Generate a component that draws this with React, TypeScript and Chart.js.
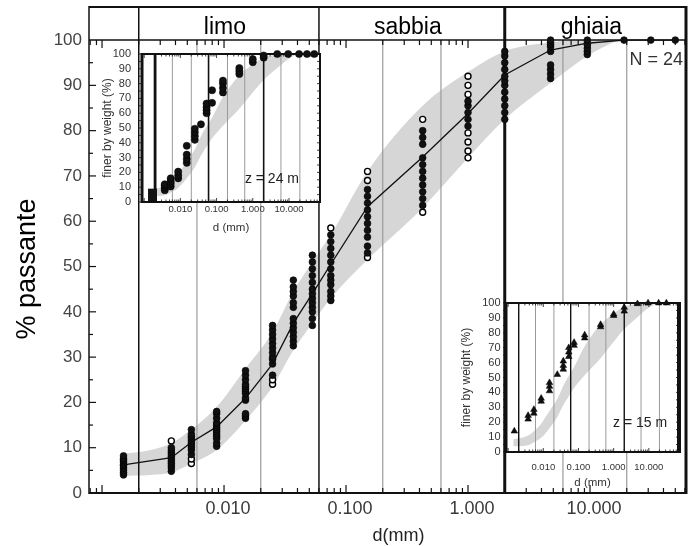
import React, { useEffect, useRef } from 'react';
import { Chart, registerables } from 'chart.js';

Chart.register(...registerables);

const FONT = '"Liberation Sans", Arial, Helvetica, sans-serif';
const BAND_COLOR = '#d6d6d6';

// grain sizes (mm) of the readings
const SIZES = [0.0015, 0.0037, 0.0054, 0.0087, 0.015, 0.025, 0.037, 0.053, 0.075, 0.15, 0.425, 1.0, 2.0, 4.75, 9.5, 19, 31.5, 50];

// main chart: % passing of the 24 samples at each size (filled markers)
const MAIN_FILLED: number[][] = [
  [4, 4.5, 5, 5.5, 6, 6.3, 6.8, 7.2, 7.6, 8.2],
  [4.8, 5.5, 6, 6.5, 7, 7.5, 8, 8.5, 9, 9.5, 10],
  [8.5, 9.5, 10, 10.5, 11, 11.5, 12, 12.5, 13, 14],
  [10.3, 11, 12, 12.5, 13, 13.5, 14, 14.5, 15, 15.5, 16.5, 17.5, 18],
  [16.5, 17, 17.5, 20.5, 21, 22, 22.5, 23, 23.5, 24, 25, 26, 27],
  [26, 28.5, 29.5, 30, 31, 32, 33, 34, 35, 36, 37],
  [32.5, 33.5, 34.5, 35.5, 36.5, 37.5, 38.5, 41, 42, 43.5, 44.5, 45.5, 47],
  [37, 38.5, 40, 41, 42, 43, 44, 45, 46.5, 48, 49.5, 51, 52.5],
  [42.5, 43.5, 44.5, 46, 47, 48, 49.5, 51, 52.5, 54, 55.5, 57],
  [53, 54.5, 56.5, 58, 59.5, 61, 62.5, 64, 65.5, 67],
  [63.5, 65, 66.5, 68, 69.5, 71, 72.5, 74, 77, 78.5, 80],
  [81, 82.5, 84, 85.5, 86.5],
  [82.5, 84, 85.5, 87, 88.5, 90, 91, 92, 93.5, 95, 96.5, 97.5],
  [91.5, 92.5, 93.5, 94.5, 97.5, 98.5, 99, 99.5, 100],
  [96.8, 97.5, 98.2, 99, 100],
  [100],
  [100],
  [100],
];
// main chart: open markers
const MAIN_OPEN: number[][] = [
  [], [11.5], [6.5, 7.5], [], [], [24, 25], [], [], [58.5],
  [52, 69, 71], [62, 82.5], [74, 75.5, 77.5, 79.5, 88, 90, 92], [], [], [], [], [], [],
];
// main chart: mean curve
const MAIN_MEAN = [6.2, 7.8, 11.2, 14.6, 20.9, 28.5, 37.5, 44, 50.5, 63.2, 74.2, 83.8, 92.3, 97.8, 99.3, 100, 100, 100];

// envelope (grey band)
const BAND_D = [0.0014, 0.0025, 0.0037, 0.0054, 0.0087, 0.015, 0.025, 0.037, 0.053, 0.075, 0.15, 0.425, 1.0, 2.0, 4.75, 9.5, 17];
const BAND_UPPER = [8.6, 9.5, 11, 14, 19, 27.5, 35.5, 44.5, 51, 57, 71, 85.5, 93, 97.5, 99.5, 100, 100];
const BAND_LOWER = [3.8, 4, 4.5, 6.5, 9.5, 16, 23.5, 31.5, 37.5, 43, 51.5, 63, 74, 82.5, 90.5, 96.5, 100];

// inset z = 24 m
const INSET_A_VALUES: number[][] = [
  [], [8, 9.5, 11, 12], [10.5, 12.5, 14, 16], [16, 18, 20.5], [26.5, 29, 32, 38],
  [42, 44.5, 47, 49.5], [52.5], [60, 62, 64, 66.5], [67, 75.5], [74, 77, 80, 82],
  [86.5, 88.5, 90.5], [94.5, 96.5], [97.5, 99], [100], [100], [100], [100], [100],
];
const INSET_A_CLAY_D = [0.0017, 0.0017];
const INSET_A_CLAY_Y = [0, 9];

// inset z = 15 m
const INSET_B_VALUES: number[][] = [
  [14], [22, 24.5], [26, 28.5], [34, 36], [41, 44, 46.5], [52], [55.5, 58, 61],
  [64, 67, 70], [71.5, 73.5], [76.5, 78.5], [84, 85.5], [91.5, 92.5], [94.5, 97],
  [99.5], [100], [100], [100], [],
];

const X_TICKS = [0.01, 0.1, 1, 10];
const X_TICK_LABELS = ['0.010', '0.100', '1.000', '10.000'];
const Y_TICKS = [0, 10, 20, 30, 40, 50, 60, 70, 80, 90, 100];
const CLASS_LIMITS = [0.002, 0.06, 2];
const SUB_LIMITS = [0.006, 0.02, 0.2, 0.6, 6, 20];
const CLASS_NAMES = ['limo', 'sabbia', 'ghiaia'];
const N_LABEL = 'N = 24';
const Y_TITLE = '% passante';
const X_TITLE = 'd(mm)';
const INSET_Y_TITLE = 'finer by weight (%)';
const INSET_X_TITLE = 'd (mm)';
const INSET_A_LABEL = 'z = 24 m';
const INSET_B_LABEL = 'z = 15 m';

const MAIN_X_MIN = 0.000782;
const MAIN_X_MAX = 61.2;
const MAIN_Y_MAX = 107.3;
const INSET_X_MIN = 0.00087;
const INSET_X_MAX = 72;

const toPoints = (cols: number[][]) =>
  cols.flatMap((vals, i) => vals.map((v) => ({ x: SIZES[i], y: v })));

function seg(ctx: CanvasRenderingContext2D, x1: number, y1: number, x2: number, y2: number) {
  ctx.beginPath();
  ctx.moveTo(x1, y1);
  ctx.lineTo(x2, y2);
  ctx.stroke();
}

function logTicks(min: number, max: number) {
  const out: { v: number; major: boolean }[] = [];
  for (let e = -4; e <= 2; e++) {
    for (let m = 1; m <= 9; m++) {
      const v = m * Math.pow(10, e);
      if (v > min && v < max) out.push({ v, major: m === 1 });
    }
  }
  return out;
}

function bandDatasets() {
  return [
    {
      data: BAND_D.map((d, i) => ({ x: d, y: BAND_UPPER[i] })),
      borderWidth: 0,
      borderColor: 'rgba(0,0,0,0)',
      pointRadius: 0,
      fill: '+1',
      backgroundColor: BAND_COLOR,
      cubicInterpolationMode: 'monotone',
      order: 10,
    },
    {
      data: BAND_D.map((d, i) => ({ x: d, y: BAND_LOWER[i] })),
      borderWidth: 0,
      borderColor: 'rgba(0,0,0,0)',
      pointRadius: 0,
      fill: false,
      cubicInterpolationMode: 'monotone',
      order: 10,
    },
  ];
}

const mainPlugin = {
  id: 'mainDecor',
  afterDatasetDraw(chart: any, args: any) {
    if (args.index !== 0) return;
    const { ctx, chartArea: a, scales } = chart;
    const x = scales.x;
    const y100 = scales.y.getPixelForValue(100);
    ctx.save();
    ctx.strokeStyle = '#9a9a9a';
    ctx.lineWidth = 1.2;
    SUB_LIMITS.forEach((d) => {
      const px = x.getPixelForValue(d);
      seg(ctx, px, y100, px, a.bottom);
    });
    ctx.strokeStyle = '#111';
    CLASS_LIMITS.forEach((d, i) => {
      const px = x.getPixelForValue(d);
      ctx.lineWidth = i === 2 ? 3 : 1.5;
      seg(ctx, px, a.top, px, a.bottom);
    });
    ctx.restore();
  },
  afterDraw(chart: any) {
    const { ctx, chartArea: a, scales } = chart;
    const x = scales.x;
    const y = scales.y;
    const y100 = y.getPixelForValue(100);
    ctx.save();
    ctx.strokeStyle = '#111';
    ctx.lineWidth = 1.2;
    logTicks(MAIN_X_MIN, MAIN_X_MAX).forEach((t) => {
      const px = x.getPixelForValue(t.v);
      const len = t.major ? 8 : 5;
      seg(ctx, px, a.bottom, px, a.bottom - len);
      seg(ctx, px, y100, px, y100 + len);
    });
    for (let v = 5; v < 100; v += 5) {
      const py = y.getPixelForValue(v);
      seg(ctx, a.left, py, a.left + (v % 10 === 0 ? 7 : 4), py);
    }
    ctx.lineWidth = 1.5;
    seg(ctx, a.left, y100, a.right, y100);
    ctx.lineWidth = 2;
    seg(ctx, a.left, a.top, a.right, a.top);
    seg(ctx, a.left, a.bottom, a.right, a.bottom);
    ctx.lineWidth = 1.5;
    seg(ctx, a.left, a.top - 1, a.left, a.bottom + 1);
    ctx.lineWidth = 3;
    seg(ctx, a.right, a.top - 1, a.right, a.bottom + 1);

    // soil class names
    const bounds = [...CLASS_LIMITS.map((d) => x.getPixelForValue(d)), a.right];
    ctx.fillStyle = '#000';
    ctx.font = `23px ${FONT}`;
    ctx.textAlign = 'center';
    ctx.textBaseline = 'alphabetic';
    CLASS_NAMES.forEach((name, i) => {
      ctx.fillText(name, (bounds[i] + bounds[i + 1]) / 2 - 4, y100 - 6);
    });
    ctx.fillStyle = '#333';
    ctx.font = `18px ${FONT}`;
    ctx.textAlign = 'right';
    ctx.fillText(N_LABEL, a.right - 3, y100 + 25);

    // axis titles
    ctx.fillStyle = '#222';
    ctx.font = `18px ${FONT}`;
    ctx.textAlign = 'center';
    ctx.textBaseline = 'middle';
    ctx.fillText(X_TITLE, (a.left + a.right) / 2 + 11, a.bottom + 43);
    ctx.save();
    ctx.translate(28, (a.top + a.bottom) / 2 + 19);
    ctx.rotate(-Math.PI / 2);
    ctx.fillStyle = '#000';
    ctx.font = `27px ${FONT}`;
    ctx.fillText(Y_TITLE, 0, 0);
    ctx.restore();
    ctx.restore();
  },
};

function mainConfig(): any {
  return {
    type: 'line',
    data: {
      datasets: [
        ...bandDatasets(),
        {
          data: SIZES.map((d, i) => ({ x: d, y: MAIN_MEAN[i] })),
          borderColor: '#111',
          borderWidth: 1.3,
          pointRadius: 0,
          fill: false,
          tension: 0,
          order: 1,
        },
        {
          data: toPoints(MAIN_FILLED),
          showLine: false,
          pointStyle: 'circle',
          pointRadius: 3.4,
          pointBackgroundColor: '#111',
          pointBorderColor: '#000',
          pointBorderWidth: 0.6,
          order: 0,
        },
        {
          data: toPoints(MAIN_OPEN),
          showLine: false,
          pointStyle: 'circle',
          pointRadius: 3,
          pointBackgroundColor: '#fff',
          pointBorderColor: '#000',
          pointBorderWidth: 1.4,
          order: 0,
        },
      ],
    },
    options: {
      responsive: false,
      animation: false,
      devicePixelRatio: 1,
      events: [],
      layout: { padding: { left: 0, top: 7, right: 11, bottom: 0 } },
      plugins: { legend: { display: false }, tooltip: { enabled: false } },
      scales: {
        x: {
          type: 'logarithmic',
          min: MAIN_X_MIN,
          max: MAIN_X_MAX,
          afterBuildTicks: (s: any) => {
            s.ticks = X_TICKS.map((v) => ({ value: v }));
          },
          afterFit: (s: any) => {
            s.height = 53;
            s.paddingLeft = 0;
            s.paddingRight = 0;
          },
          grid: { display: false, drawTicks: false },
          border: { display: false },
          ticks: {
            autoSkip: false,
            maxRotation: 0,
            padding: 5,
            labelOffset: 4,
            color: '#3a3a3a',
            font: { family: FONT, size: 18 },
            callback: (_v: any, i: number) => X_TICK_LABELS[i],
          },
        },
        y: {
          type: 'linear',
          min: 0,
          max: MAIN_Y_MAX,
          afterBuildTicks: (s: any) => {
            s.ticks = Y_TICKS.map((v) => ({ value: v }));
          },
          afterFit: (s: any) => {
            s.width = 89;
            s.paddingTop = 0;
            s.paddingBottom = 0;
          },
          grid: { display: false, drawTicks: false },
          border: { display: false },
          ticks: {
            autoSkip: false,
            padding: 7,
            color: '#444',
            font: { family: FONT, size: 17 },
          },
        },
      },
    },
    plugins: [mainPlugin],
  };
}

interface InsetParams {
  values: number[][];
  clay: boolean;
  pointStyle: string;
  radius: number;
  yAxisW: number;
  xAxisH: number;
  padTop: number;
  padRight: number;
  yLabelPad: number;
  xLabelPad: number;
  yTitlePad: number;
  xTitlePad: number;
  limitWidths: number[];
  label: string;
  labelPos: number[];
  leftBorder: number;
  rightBorder: number;
}

const INSET_A: InsetParams = {
  values: INSET_A_VALUES,
  clay: true,
  pointStyle: 'circle',
  radius: 3.6,
  yAxisW: 47,
  xAxisH: 38,
  padTop: 9,
  padRight: 10,
  yLabelPad: 11,
  xLabelPad: 2,
  yTitlePad: 5,
  xTitlePad: 5,
  limitWidths: [2.8, 1.6, 1.6],
  label: INSET_A_LABEL,
  labelPos: [0.73, 0.845],
  leftBorder: 3,
  rightBorder: 2,
};

const INSET_B: InsetParams = {
  values: INSET_B_VALUES,
  clay: false,
  pointStyle: 'triangle',
  radius: 3.8,
  yAxisW: 51,
  xAxisH: 43,
  padTop: 8,
  padRight: 11,
  yLabelPad: 5.5,
  xLabelPad: 9.5,
  yTitlePad: 4.5,
  xTitlePad: 5,
  limitWidths: [1.4, 1.4, 1.4],
  label: INSET_B_LABEL,
  labelPos: [0.775, 0.805],
  leftBorder: 3,
  rightBorder: 4,
};

function insetPlugin(p: InsetParams) {
  return {
    id: 'insetDecor',
    beforeDraw(chart: any) {
      const { ctx, chartArea: a } = chart;
      ctx.save();
      ctx.fillStyle = '#fff';
      ctx.fillRect(a.left, a.top, a.right - a.left, a.bottom - a.top);
      ctx.restore();
    },
    afterDatasetDraw(chart: any, args: any) {
      if (args.index !== 0) return;
      const { ctx, chartArea: a, scales } = chart;
      ctx.save();
      ctx.strokeStyle = '#9a9a9a';
      ctx.lineWidth = 1;
      SUB_LIMITS.forEach((d) => {
        const px = scales.x.getPixelForValue(d);
        seg(ctx, px, a.top, px, a.bottom);
      });
      ctx.strokeStyle = '#111';
      CLASS_LIMITS.forEach((d, i) => {
        const px = scales.x.getPixelForValue(d);
        ctx.lineWidth = p.limitWidths[i];
        seg(ctx, px, a.top, px, a.bottom);
      });
      ctx.restore();
    },
    afterDraw(chart: any) {
      const { ctx, chartArea: a, scales } = chart;
      ctx.save();
      ctx.strokeStyle = '#111';
      ctx.lineWidth = 0.8;
      logTicks(INSET_X_MIN, INSET_X_MAX).forEach((t) => {
        const px = scales.x.getPixelForValue(t.v);
        const len = t.major ? 4 : 2.5;
        seg(ctx, px, a.top, px, a.top + len);
        seg(ctx, px, a.bottom, px, a.bottom - len);
      });
      for (let v = 0; v <= 100; v += 5) {
        const py = scales.y.getPixelForValue(v);
        seg(ctx, a.left, py, a.left - 3, py);
        seg(ctx, a.right, py, a.right - 3, py);
      }
      ctx.lineWidth = 2;
      seg(ctx, a.left, a.top, a.right, a.top);
      seg(ctx, a.left, a.bottom, a.right, a.bottom);
      ctx.lineWidth = p.leftBorder;
      seg(ctx, a.left, a.top - 1, a.left, a.bottom + 1);
      ctx.lineWidth = p.rightBorder;
      seg(ctx, a.right, a.top - 1, a.right, a.bottom + 1);
      ctx.fillStyle = '#222';
      ctx.font = `14px ${FONT}`;
      ctx.textAlign = 'center';
      ctx.textBaseline = 'middle';
      ctx.fillText(
        p.label,
        a.left + (a.right - a.left) * p.labelPos[0],
        a.top + (a.bottom - a.top) * p.labelPos[1]
      );
      ctx.restore();
    },
  };
}

function insetConfig(p: InsetParams): any {
  const datasets: any[] = [...bandDatasets()];
  if (p.clay) {
    datasets.push({
      data: INSET_A_CLAY_D.map((d, i) => ({ x: d, y: INSET_A_CLAY_Y[i] })),
      borderColor: '#111',
      borderWidth: 9,
      borderCapStyle: 'butt',
      pointRadius: 0,
      fill: false,
      order: 5,
    });
  }
  datasets.push({
    data: toPoints(p.values),
    showLine: false,
    pointStyle: p.pointStyle,
    pointRadius: p.radius,
    pointBackgroundColor: '#111',
    pointBorderColor: '#000',
    pointBorderWidth: 0.5,
    clip: false,
    order: 0,
  });
  return {
    type: 'line',
    data: { datasets },
    options: {
      responsive: false,
      animation: false,
      devicePixelRatio: 1,
      events: [],
      layout: { padding: { left: 0, top: p.padTop, right: p.padRight, bottom: 0 } },
      plugins: { legend: { display: false }, tooltip: { enabled: false } },
      scales: {
        x: {
          type: 'logarithmic',
          min: INSET_X_MIN,
          max: INSET_X_MAX,
          afterBuildTicks: (s: any) => {
            s.ticks = X_TICKS.map((v) => ({ value: v }));
          },
          afterFit: (s: any) => {
            s.height = p.xAxisH;
            s.paddingLeft = 0;
            s.paddingRight = 0;
          },
          grid: { display: false, drawTicks: false },
          border: { display: false },
          ticks: {
            autoSkip: false,
            maxRotation: 0,
            padding: p.xLabelPad,
            color: '#333',
            font: { family: FONT, size: 9.5 },
            callback: (_v: any, i: number) => X_TICK_LABELS[i],
          },
          title: {
            display: true,
            text: INSET_X_TITLE,
            color: '#333',
            font: { family: FONT, size: 11.5 },
            padding: { top: 0, bottom: p.xTitlePad },
          },
        },
        y: {
          type: 'linear',
          min: 0,
          max: 100,
          afterBuildTicks: (s: any) => {
            s.ticks = Y_TICKS.map((v) => ({ value: v }));
          },
          afterFit: (s: any) => {
            s.width = p.yAxisW;
            s.paddingTop = 0;
            s.paddingBottom = 0;
          },
          grid: { display: false, drawTicks: false },
          border: { display: false },
          ticks: {
            autoSkip: false,
            padding: p.yLabelPad,
            color: '#333',
            font: { family: FONT, size: 11 },
          },
          title: {
            display: true,
            text: INSET_Y_TITLE,
            color: '#333',
            font: { family: FONT, size: 12 },
            padding: { top: p.yTitlePad, bottom: 0 },
          },
        },
      },
    },
    plugins: [insetPlugin(p)],
  };
}

export default function App() {
  const mainRef = useRef<HTMLCanvasElement>(null);
  const aRef = useRef<HTMLCanvasElement>(null);
  const bRef = useRef<HTMLCanvasElement>(null);

  useEffect(() => {
    const charts = [
      new Chart(mainRef.current as HTMLCanvasElement, mainConfig()),
      new Chart(aRef.current as HTMLCanvasElement, insetConfig(INSET_A)),
      new Chart(bRef.current as HTMLCanvasElement, insetConfig(INSET_B)),
    ];
    return () => charts.forEach((c) => c.destroy());
  }, []);

  return (
    <div style={{ position: 'fixed', left: 0, top: 0, width: 697, height: 546, background: '#fff' }}>
      <canvas ref={mainRef} width={697} height={546} style={{ position: 'absolute', left: 0, top: 0 }} />
      <canvas ref={aRef} width={235} height={195} style={{ position: 'absolute', left: 95, top: 45 }} />
      <canvas ref={bRef} width={235} height={200} style={{ position: 'absolute', left: 455, top: 295 }} />
    </div>
  );
}
